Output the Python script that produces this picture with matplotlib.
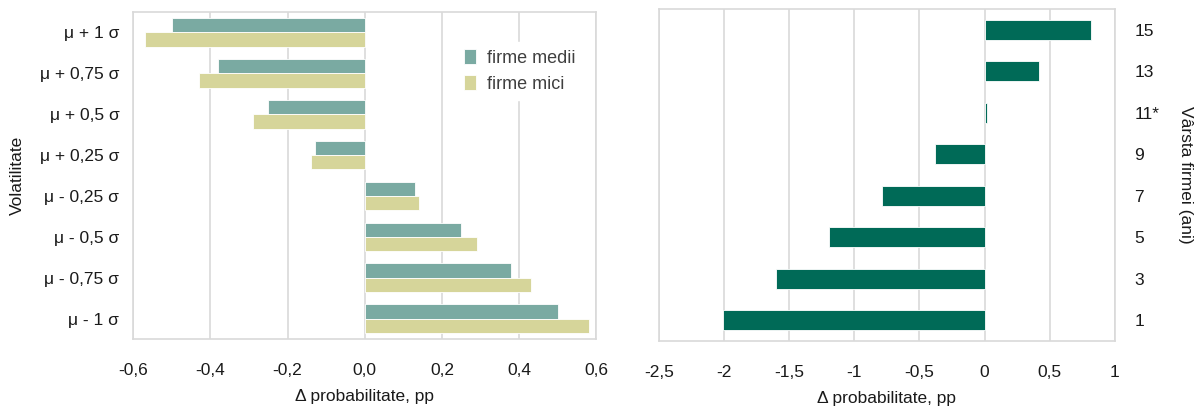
import matplotlib
matplotlib.use("Agg")
import matplotlib.pyplot as plt
import numpy as np

plt.rcParams['font.family'] = ['Liberation Sans Narrow', 'Liberation Sans', 'DejaVu Sans']

# Left panel data (top to bottom)
vol_labels = ["μ + 1 σ", "μ + 0,75 σ", "μ + 0,5 σ", "μ + 0,25 σ",
              "μ - 0,25 σ", "μ - 0,5 σ", "μ - 0,75 σ", "μ - 1 σ"]
firme_medii = [-0.50, -0.38, -0.25, -0.13, 0.13, 0.25, 0.38, 0.50]
firme_mici = [-0.57, -0.43, -0.29, -0.14, 0.14, 0.29, 0.43, 0.58]
left_ticks = [-0.6, -0.4, -0.2, 0.0, 0.2, 0.4, 0.6]
left_ticklabels = ["-0,6", "-0,4", "-0,2", "0,0", "0,2", "0,4", "0,6"]

# Right panel data (top to bottom)
age_labels = ["15", "13", "11*", "9", "7", "5", "3", "1"]
age_values = [0.82, 0.42, 0.02, -0.38, -0.79, -1.19, -1.60, -2.01]
right_ticks = [-2.5, -2, -1.5, -1, -0.5, 0, 0.5, 1]
right_ticklabels = ["-2,5", "-2", "-1,5", "-1", "-0,5", "0", "0,5", "1"]

c_medii = "#7aaaa2"
c_mici = "#d6d59a"
c_dark = "#006a57"
grid_c = "#d9d9d9"
txt_c = "#1a1a1a"

fig = plt.figure(figsize=(12, 4.13), dpi=100)
ax1 = fig.add_axes([0.111, 0.179, 0.386, 0.792])
ax2 = fig.add_axes([0.549, 0.174, 0.380, 0.804])

n = len(vol_labels)
y = np.arange(n)[::-1].astype(float)
h = 0.35
ax1.barh(y + h/2, firme_medii, height=h, color=c_medii, edgecolor="white", linewidth=0.6, label="firme medii", zorder=3)
ax1.barh(y - h/2, firme_mici, height=h, color=c_mici, edgecolor="white", linewidth=0.6, label="firme mici", zorder=3)
ax1.set_xlim(-0.6, 0.6)
ax1.set_ylim(-0.5, n - 0.5)
ax1.set_xticks(left_ticks)
ax1.set_xticklabels(left_ticklabels)
ax1.set_yticks(y)
ax1.set_yticklabels(vol_labels)
ax1.set_xlabel("Δ probabilitate, pp", fontsize=12.5, color=txt_c, labelpad=8)
ax1.set_ylabel("Volatilitate", fontsize=12.5, color=txt_c, labelpad=11)
leg = ax1.legend(loc="upper right", bbox_to_anchor=(0.99, 0.935), frameon=True, fontsize=13,
                 handlelength=0.7, handleheight=0.9, handletextpad=0.6, labelspacing=0.45,
                 borderpad=0.4, fancybox=False)
leg.get_frame().set_edgecolor("white")
leg.get_frame().set_facecolor("white")
leg.get_frame().set_alpha(1)
for t in leg.get_texts():
    t.set_color("#404040")

yr = np.arange(len(age_labels))[::-1].astype(float)
ax2.barh(yr, age_values, height=0.48, color=c_dark, edgecolor="white", linewidth=0.6, zorder=3)
ax2.set_xlim(-2.5, 1)
ax2.set_ylim(-0.5, len(age_labels) - 0.5)
ax2.set_xticks(right_ticks)
ax2.set_xticklabels(right_ticklabels)
ax2.set_yticks(yr)
ax2.set_yticklabels(age_labels)
ax2.yaxis.tick_right()
ax2.yaxis.set_label_position("right")
ax2.set_xlabel("Δ probabilitate, pp", fontsize=12.5, color=txt_c, labelpad=8)
ax2.set_ylabel("Vârsta firmei (ani)", fontsize=12.5, color=txt_c, rotation=-90, labelpad=24)

for ax in (ax1, ax2):
    ax.grid(axis="x", color=grid_c, linewidth=1.2, zorder=0)
    ax.set_axisbelow(True)
    for s in ax.spines.values():
        s.set_color(grid_c)
        s.set_linewidth(1.2)
    ax.tick_params(length=0, labelsize=12.5, colors=txt_c)
    ax.tick_params(axis="x", pad=17)
    ax.tick_params(axis="y", pad=10)
ax2.tick_params(axis="y", pad=14)

fig.savefig("out.png", dpi=100, facecolor="white")
